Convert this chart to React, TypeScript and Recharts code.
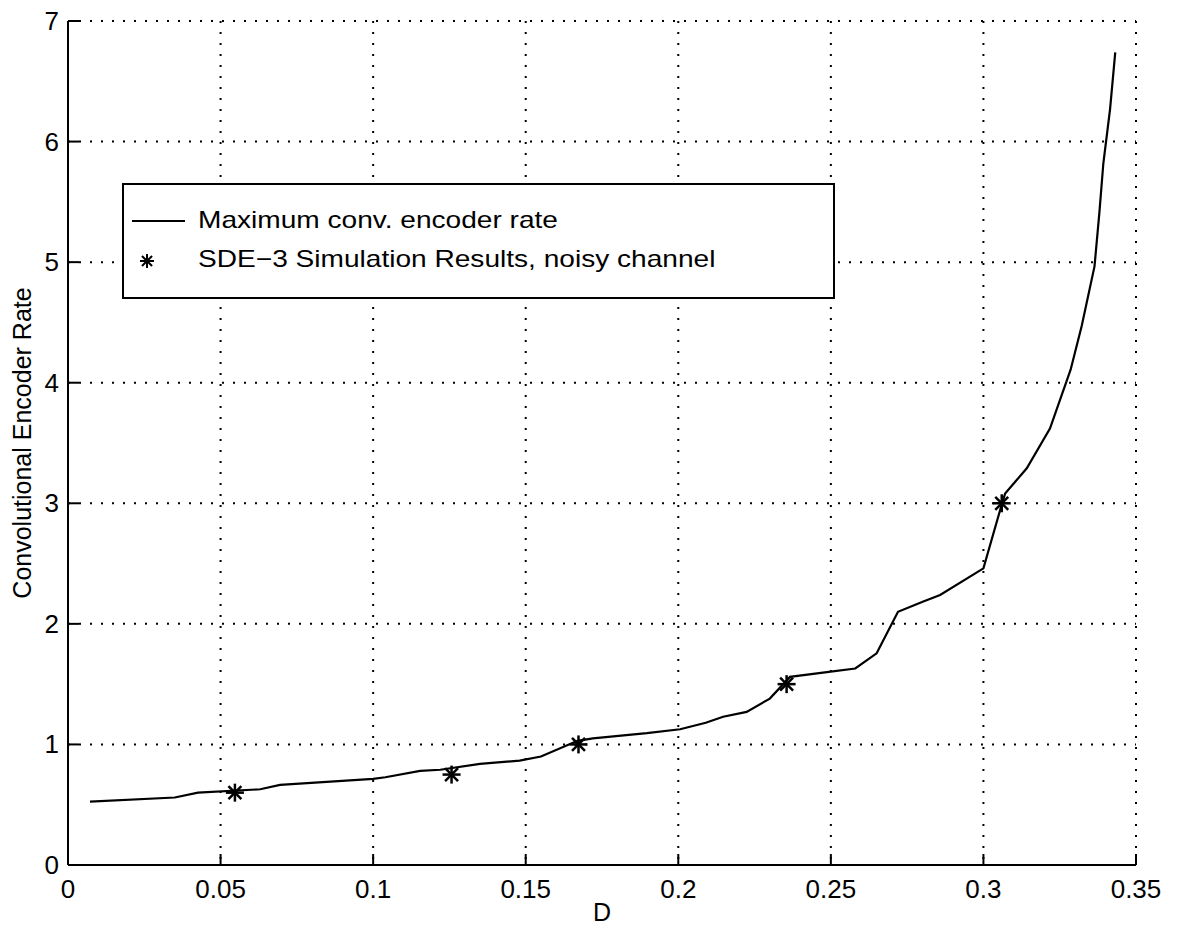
import React from 'react';
import { ComposedChart, Line, Scatter, XAxis, YAxis, CartesianGrid, Legend } from 'recharts';

const curveD = [0.0072, 0.035, 0.0426, 0.063, 0.0695, 0.1, 0.104, 0.1154, 0.122, 0.135, 0.148, 0.155, 0.167, 0.172, 0.1897, 0.2006, 0.209, 0.2147, 0.2224, 0.23, 0.2366, 0.2487, 0.258, 0.265, 0.272, 0.2803, 0.2858, 0.3, 0.306, 0.3071, 0.3142, 0.3218, 0.3286, 0.3322, 0.3364, 0.338, 0.3393, 0.3415, 0.3432];
const curveRate = [0.525, 0.56, 0.6, 0.628, 0.664, 0.714, 0.728, 0.78, 0.79, 0.838, 0.866, 0.9, 1.03, 1.05, 1.093, 1.126, 1.18, 1.23, 1.27, 1.38, 1.56, 1.6, 1.63, 1.756, 2.1, 2.185, 2.24, 2.46, 2.99, 3.08, 3.29, 3.62, 4.11, 4.47, 4.965, 5.41, 5.82, 6.27, 6.74];
const simD = [0.0547, 0.1257, 0.1673, 0.2355, 0.306];
const simRate = [0.6, 0.75, 1.0, 1.5, 3.0];
const xTicks = [0, 0.05, 0.1, 0.15, 0.2, 0.25, 0.3, 0.35];
const yTicks = [0, 1, 2, 3, 4, 5, 6, 7];

const curve = curveD.map((d, i) => ({ d, r: curveRate[i] }));
const sims = simD.map((d, i) => ({ d, r: simRate[i] }));

const FONT = '"Liberation Sans", Arial, Helvetica, sans-serif';
const TICK = 11;

const BottomTick = (p: any) => (
  <g>
    <line x1={p.x} y1={p.y} x2={p.x} y2={p.y - TICK} stroke="#000" strokeWidth={2} />
    <text x={p.x} y={p.y + 33} textAnchor="middle" fontSize={26} fontFamily={FONT} fill="#000">
      {String(p.payload.value)}
    </text>
  </g>
);
const TopTick = (p: any) => (
  <line x1={p.x} y1={p.y} x2={p.x} y2={p.y + TICK} stroke="#000" strokeWidth={2} />
);
const LeftTick = (p: any) => (
  <g>
    <line x1={p.x} y1={p.y} x2={p.x + TICK} y2={p.y} stroke="#000" strokeWidth={2} />
    <text x={p.x - 9} y={p.y + 9} textAnchor="end" fontSize={26} fontFamily={FONT} fill="#000">
      {String(p.payload.value)}
    </text>
  </g>
);
const RightTick = (p: any) => (
  <line x1={p.x} y1={p.y} x2={p.x - TICK} y2={p.y} stroke="#000" strokeWidth={2} />
);

const makeStar = (r: number, sw: number) => (p: any) => {
  const { cx, cy } = p;
  const q = r * 0.72;
  return (
    <g stroke="#000" strokeWidth={sw}>
      <line x1={cx - r} y1={cy} x2={cx + r} y2={cy} />
      <line x1={cx} y1={cy - r} x2={cx} y2={cy + r} />
      <line x1={cx - q} y1={cy - q} x2={cx + q} y2={cy + q} />
      <line x1={cx - q} y1={cy + q} x2={cx + q} y2={cy - q} />
    </g>
  );
};
const Star = makeStar(9, 2.5);
const LegendStar = makeStar(7, 2);

const textStyle: React.CSSProperties = {
  position: 'absolute',
  whiteSpace: 'nowrap',
  lineHeight: '30px',
  transform: 'scaleX(1.17)',
  transformOrigin: 'left center',
};

const LegendBox = () => (
  <div
    style={{
      position: 'absolute',
      left: 114,
      top: 175,
      width: 709,
      height: 112,
      border: '2px solid #000',
      background: '#fff',
      fontFamily: FONT,
      fontSize: 24,
      color: '#000',
      boxSizing: 'content-box',
    }}
  >
    <div style={{ position: 'absolute', left: 8, top: 35, width: 53, height: 2, background: '#000' }} />
    <div style={{ ...textStyle, left: 74, top: 20 }}>Maximum conv. encoder rate</div>
    <svg style={{ position: 'absolute', left: 13, top: 66 }} width={20} height={20}>
      <LegendStar cx={10} cy={10} />
    </svg>
    <div style={{ ...textStyle, left: 74, top: 59 }}>SDE−3 Simulation Results, noisy channel</div>
  </div>
);

const XLabel = (props: any) => {
  const vb = props.viewBox || {};
  return (
    <text x={vb.x + vb.width / 2} y={913} textAnchor="middle" fontSize={25} fontFamily={FONT} fill="#000">
      D
    </text>
  );
};
const YLabel = () => (
  <text transform="translate(23,435) rotate(-90)" textAnchor="middle" fontSize={25} fontFamily={FONT} fill="#000">
    Convolutional Encoder Rate
  </text>
);

export default function App() {
  return (
    <div style={{ position: 'relative', width: 1168, height: 920 }}>
      <ComposedChart width={1168} height={920} margin={{ top: 13, right: 40, left: 0, bottom: 3 }}>
        <CartesianGrid stroke="#000" strokeWidth={2} strokeDasharray="2 9" />
        <XAxis
          dataKey="d"
          type="number"
          domain={[0, 0.35]}
          ticks={xTicks}
          height={60}
          tickSize={0}
          tickMargin={0}
          tickLine={false}
          axisLine={{ stroke: '#000', strokeWidth: 2 }}
          tick={BottomTick}
          label={{ content: XLabel }}
          interval={0}
          allowDataOverflow
        />
        <XAxis
          xAxisId="top"
          orientation="top"
          dataKey="d"
          type="number"
          domain={[0, 0.35]}
          ticks={xTicks}
          height={0}
          tickSize={0}
          tickMargin={0}
          tickLine={false}
          axisLine={{ stroke: '#000', strokeWidth: 2 }}
          tick={TopTick}
          interval={0}
        />
        <YAxis
          dataKey="r"
          type="number"
          domain={[0, 7]}
          ticks={yTicks}
          width={60}
          tickSize={0}
          tickMargin={0}
          tickLine={false}
          axisLine={{ stroke: '#000', strokeWidth: 2 }}
          tick={LeftTick}
          label={{ content: YLabel }}
          interval={0}
        />
        <YAxis
          yAxisId="right"
          orientation="right"
          type="number"
          domain={[0, 7]}
          ticks={yTicks}
          width={0}
          tickSize={0}
          tickMargin={0}
          tickLine={false}
          axisLine={{ stroke: '#000', strokeWidth: 2 }}
          tick={RightTick}
          interval={0}
        />
        <Line
          data={curve}
          dataKey="r"
          type="linear"
          stroke="#000"
          strokeWidth={2.2}
          dot={false}
          activeDot={false}
          isAnimationActive={false}
        />
        <Scatter data={sims} dataKey="r" shape={Star} isAnimationActive={false} />
        <Legend content={LegendBox} wrapperStyle={{ position: 'absolute', left: 0, top: 0, width: 0, height: 0 }} />
      </ComposedChart>
    </div>
  );
}
